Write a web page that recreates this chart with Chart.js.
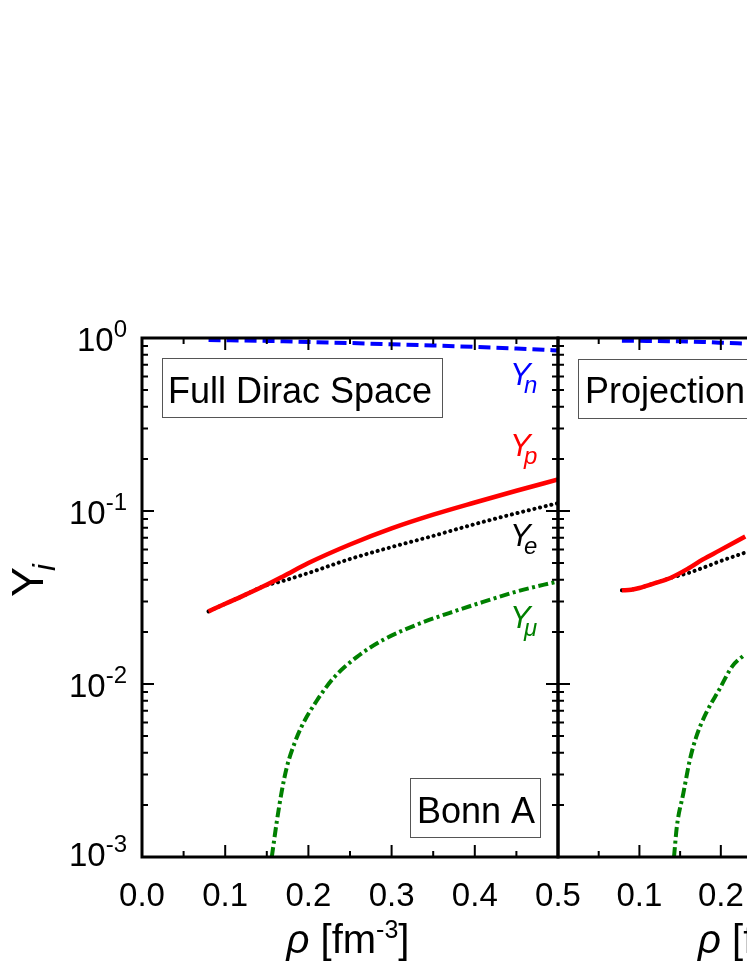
<!DOCTYPE html>
<html>
<head>
<meta charset="utf-8">
<script src="https://cdn.jsdelivr.net/npm/chart.js@4.4.1/dist/chart.umd.min.js"></script>
<style>
  html, body { margin: 0; padding: 0; background: #fff; overflow: hidden; width: 747px; height: 967px; }
  #wrap { position: relative; width: 747px; height: 967px; overflow: hidden; }
  canvas { position: absolute; left: 0; top: 0; }
</style>
</head>
<body>
<div id="wrap">
  <canvas id="fullDirac" width="1000" height="967"></canvas>
  <canvas id="projection" width="1000" height="967"></canvas>
</div>
<script>
// Particle fractions vs density rho [fm^-3]

// Full Dirac Space panel
const fdRho = [0.08, 0.10, 0.12, 0.146, 0.17, 0.20, 0.25, 0.30, 0.35, 0.40, 0.45, 0.50];
const fdYn  = [0.974, 0.971, 0.968, 0.963, 0.958, 0.949, 0.935, 0.920, 0.905, 0.888, 0.869, 0.848];
const fdYp  = [0.0263, 0.0291, 0.0321, 0.0367, 0.0420, 0.0500, 0.0640, 0.0793, 0.0952, 0.112, 0.131, 0.152];
const fdYe  = [0.0263, 0.0291, 0.0321, 0.0367, 0.0395, 0.0438, 0.0528, 0.0619, 0.0718, 0.084, 0.097, 0.111];
const fdRhoMu = [0.156, 0.162, 0.168, 0.174, 0.183, 0.192, 0.21, 0.23, 0.258, 0.29, 0.33, 0.37, 0.41, 0.45, 0.50];
const fdYmu   = [0.001, 0.0016, 0.0024, 0.0033, 0.0045, 0.0057, 0.0080, 0.0108, 0.0143, 0.018, 0.022, 0.0258, 0.0298, 0.0342, 0.0392];

// Projection panel (only the left part is visible)
const prRho = [0.0785, 0.09, 0.10, 0.12, 0.138, 0.16, 0.178, 0.198, 0.23];
const prYn  = [0.965, 0.964, 0.963, 0.961, 0.958, 0.954, 0.949, 0.940, 0.929];
const prYp  = [0.0348, 0.0351, 0.0359, 0.0384, 0.041, 0.0465, 0.0525, 0.059, 0.0712];
const prYe  = [0.0348, 0.0351, 0.0359, 0.0384, 0.041, 0.0438, 0.0469, 0.051, 0.0575];
const prRhoMu = [0.1425, 0.146, 0.154, 0.162, 0.170, 0.182, 0.198, 0.214, 0.23];
const prYmu   = [0.001, 0.0015, 0.00234, 0.00365, 0.00498, 0.0068, 0.00927, 0.01265, 0.0149];

// axis ticks
const xTicks = [0.0, 0.1, 0.2, 0.3, 0.4, 0.5];
const yDecades = [0.001, 0.01, 0.1, 1];
const yTickExps = ['-3', '-2', '-1', '0'];

const FONT = '"Liberation Sans", Arial, sans-serif';
const BLUE = '#0000ff', RED = '#ff0000', GREEN = '#008000';

function pts(xs, ys) {
    return xs.map((x, i) => ({ x: x, y: ys[i] }));
}

// frame, inward ticks and the text that Chart.js can't do (superscripts)
const framePlugin = {
    id: 'frame',
    afterDraw(chart, args, opts) {
        const ctx = chart.ctx;
        const a = chart.chartArea;
        const x = chart.scales.x, y = chart.scales.y;
        ctx.save();
        ctx.strokeStyle = '#000';
        ctx.fillStyle = '#000';

        // tick marks
        ctx.lineWidth = 2;
        ctx.beginPath();
        xTicks.forEach((v, i) => {
            const px = x.getPixelForValue(v);
            ctx.moveTo(px, a.bottom); ctx.lineTo(px, a.bottom - 12);
            ctx.moveTo(px, a.top); ctx.lineTo(px, a.top + 12);
            if (i < xTicks.length - 1) {
                const pm = x.getPixelForValue((v + xTicks[i + 1]) / 2);
                ctx.moveTo(pm, a.bottom); ctx.lineTo(pm, a.bottom - 6);
                ctx.moveTo(pm, a.top); ctx.lineTo(pm, a.top + 6);
            }
        });
        yDecades.forEach((d, i) => {
            const py = y.getPixelForValue(d);
            ctx.moveTo(a.left, py); ctx.lineTo(a.left + 12, py);
            ctx.moveTo(a.right, py); ctx.lineTo(a.right - 12, py);
            if (i < yDecades.length - 1) {
                for (let k = 2; k <= 9; k++) {
                    const pm = y.getPixelForValue(d * k);
                    ctx.moveTo(a.left, pm); ctx.lineTo(a.left + 6, pm);
                    ctx.moveTo(a.right, pm); ctx.lineTo(a.right - 6, pm);
                }
            }
        });
        ctx.stroke();

        // frame
        ctx.lineWidth = 3;
        ctx.strokeRect(a.left, a.top, a.right - a.left, a.bottom - a.top);

        // y tick labels 10^n
        if (opts.yLabels) {
            ctx.textAlign = 'left';
            ctx.textBaseline = 'alphabetic';
            yDecades.forEach((d, i) => {
                const py = y.getPixelForValue(d);
                // lowest label sits a little higher in the original
                const shift = i === 0 ? -4 : 0;
                ctx.font = '24px ' + FONT;
                const we = ctx.measureText(yTickExps[i]).width;
                ctx.font = '33px ' + FONT;
                const wb = ctx.measureText('10').width;
                const xr = a.left - 15;
                ctx.fillText('10', xr - we - wb, py + 12.5 + shift);
                ctx.font = '24px ' + FONT;
                ctx.fillText(yTickExps[i], xr - we, py - 1 + shift);
            });

            // y title
            ctx.save();
            ctx.translate(43, 597);
            ctx.rotate(-Math.PI / 2);
            ctx.font = '45px ' + FONT;
            ctx.fillText('Y', 0, 0);
            ctx.font = 'italic 31px ' + FONT;
            ctx.fillText('i', 26, 12);
            ctx.restore();
        }

        // x title: rho [fm^-3]
        const cx = (a.left + a.right) / 2 - 2;
        const by = 953;
        ctx.textAlign = 'left';
        const parts = [
            ['italic 40px ' + FONT, '\u03c1', 0],
            ['40px ' + FONT, ' [fm', 0],
            ['25px ' + FONT, '-3', -15],
            ['40px ' + FONT, ']', 0]
        ];
        let total = 0;
        parts.forEach(p => { ctx.font = p[0]; total += ctx.measureText(p[1]).width; });
        let tx = cx - total / 2;
        parts.forEach(p => {
            ctx.font = p[0];
            ctx.fillText(p[1], tx, by + p[2]);
            tx += ctx.measureText(p[1]).width;
        });

        // label boxes
        ctx.lineWidth = 1;
        ctx.strokeStyle = '#555';
        (opts.boxes || []).forEach(b => {
            ctx.fillStyle = '#fff';
            ctx.fillRect(a.left + b.dx, a.top + b.dy, b.w, b.h);
            ctx.strokeRect(a.left + b.dx + 0.5, a.top + b.dy + 0.5, b.w, b.h);
            ctx.fillStyle = '#000';
            ctx.font = '36px ' + FONT;
            ctx.fillText(b.text, a.left + b.dx + b.tx, a.top + b.dy + b.ty);
        });

        // species labels
        (opts.species || []).forEach(s => {
            ctx.fillStyle = s.color;
            ctx.font = 'italic 31px ' + FONT;
            ctx.fillText('Y', a.right - 48, a.top + s.dy);
            ctx.font = 'italic 24px ' + FONT;
            ctx.fillText(s.sub, a.right - 34, a.top + s.dy + 8);
        });
        ctx.restore();
    }
};

function makeDatasets(rho, yn, yp, ye, rhoMu, ymu) {
    return [
        { label: 'Yn', data: pts(rho, yn), borderColor: BLUE, borderWidth: 4, borderDash: [12, 6] },
        { label: 'Yp', data: pts(rho, yp), borderColor: RED, borderWidth: 4.5 },
        { label: 'Ye', data: pts(rho, ye), borderColor: '#000', borderWidth: 4,
          borderDash: [0.1, 5.7], borderCapStyle: 'round' },
        { label: 'Ymu', data: pts(rhoMu, ymu), borderColor: GREEN, borderWidth: 4,
          borderDash: [10, 3.5, 3, 3.5] }
    ];
}

function makePanel(id, datasets, padding, showY, frameOpts, hideZero) {
    return new Chart(document.getElementById(id), {
        type: 'line',
        data: { datasets: datasets },
        options: {
            responsive: false,
            animation: false,
            devicePixelRatio: 1,
            layout: { padding: padding },
            elements: {
                point: { radius: 0 },
                line: { cubicInterpolationMode: 'monotone', fill: false }
            },
            plugins: {
                legend: { display: false },
                tooltip: { enabled: false },
                frame: frameOpts
            },
            scales: {
                x: {
                    type: 'linear',
                    position: 'bottom',
                    min: 0,
                    max: 0.5,
                    grid: { display: false },
                    border: { display: false },
                    afterFit: s => { s.height = 110; },
                    ticks: {
                        stepSize: 0.1,
                        autoSkip: false,
                        maxRotation: 0,
                        padding: 12,
                        color: '#000',
                        font: { family: FONT, size: 33 },
                        callback: v => (hideZero && Math.abs(v) < 1e-9) ? '' : v.toFixed(1)
                    }
                },
                y: {
                    type: 'logarithmic',
                    position: 'left',
                    display: showY,
                    min: 0.001,
                    max: 1,
                    grid: { display: false },
                    border: { display: false },
                    ticks: { display: false },
                    afterFit: s => { s.width = showY ? 142 : 0; }
                }
            }
        },
        plugins: [framePlugin]
    });
}

makePanel('fullDirac',
    makeDatasets(fdRho, fdYn, fdYp, fdYe, fdRhoMu, fdYmu),
    { top: 338, right: 442, bottom: 0, left: 0 },
    true,
    {
        yLabels: true,
        boxes: [
            { text: 'Full Dirac Space', dx: 20, dy: 20, w: 280, h: 59, tx: 6, ty: 44.5 },
            { text: 'Bonn A', dx: 268, dy: 440, w: 130, h: 59, tx: 7, ty: 45 }
        ],
        species: [
            { sub: 'n', color: BLUE, dy: 47 },
            { sub: 'p', color: RED, dy: 118 },
            { sub: 'e', color: '#000', dy: 208 },
            { sub: '\u03bc', color: GREEN, dy: 290 }
        ]
    },
    false);

makePanel('projection',
    makeDatasets(prRho, prYn, prYp, prYe, prRhoMu, prYmu),
    { top: 338, right: 26, bottom: 0, left: 558 },
    false,
    {
        yLabels: false,
        boxes: [
            { text: 'Projection Method', dx: 20, dy: 21, w: 300, h: 59, tx: 7, ty: 44 }
        ]
    },
    true);
</script>
</body>
</html>
